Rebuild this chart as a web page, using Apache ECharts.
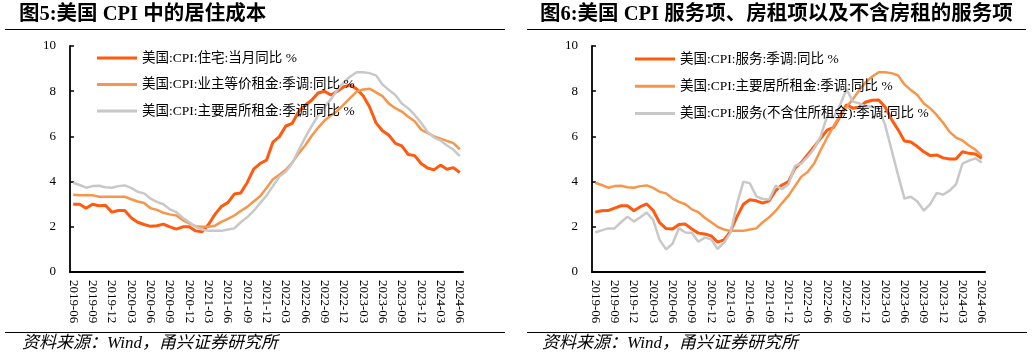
<!DOCTYPE html>
<html>
<head>
<meta charset="utf-8">
<script src="https://cdn.jsdelivr.net/npm/echarts@6/dist/echarts.min.js"></script>
<style>
html,body{margin:0;padding:0;background:#fff;}
#c{width:1032px;height:360px;}
</style>
</head>
<body>
<div id="c"></div>
<script>
const categories = [
'2019-06','2019-07','2019-08','2019-09','2019-10','2019-11','2019-12',
'2020-01','2020-02','2020-03','2020-04','2020-05','2020-06','2020-07','2020-08','2020-09','2020-10','2020-11','2020-12',
'2021-01','2021-02','2021-03','2021-04','2021-05','2021-06','2021-07','2021-08','2021-09','2021-10','2021-11','2021-12',
'2022-01','2022-02','2022-03','2022-04','2022-05','2022-06','2022-07','2022-08','2022-09','2022-10','2022-11','2022-12',
'2023-01','2023-02','2023-03','2023-04','2023-05','2023-06','2023-07','2023-08','2023-09','2023-10','2023-11','2023-12',
'2024-01','2024-02','2024-03','2024-04','2024-05','2024-06'];

// 图5
const housingYoY = [3.0,3.0,2.82,3.0,2.93,2.95,2.65,2.72,2.72,2.4,2.2,2.1,2.02,2.05,2.12,2.0,1.9,2.0,2.0,1.82,1.78,2.1,2.55,2.9,3.07,3.45,3.5,3.95,4.55,4.8,4.95,5.75,5.99,6.46,6.58,7.1,7.38,7.6,7.92,8.0,7.83,8.0,8.2,8.27,8.1,7.8,7.3,6.6,6.25,6.05,5.69,5.58,5.2,5.15,4.8,4.6,4.52,4.73,4.55,4.62,4.4];
const oerYoY = [3.42,3.4,3.4,3.4,3.33,3.33,3.33,3.33,3.33,3.22,3.12,3.05,2.82,2.75,2.62,2.55,2.5,2.3,2.15,2.03,2.0,2.0,2.05,2.22,2.35,2.5,2.7,2.88,3.12,3.35,3.72,4.1,4.3,4.52,4.84,5.25,5.6,6.02,6.38,6.7,6.92,7.13,7.42,7.7,7.98,8.08,8.11,7.95,7.78,7.45,7.25,7.1,6.87,6.67,6.3,6.15,6.0,5.9,5.8,5.7,5.43];
const rentYoY = [3.95,3.85,3.73,3.8,3.82,3.75,3.73,3.8,3.83,3.72,3.55,3.48,3.25,3.1,3.0,2.77,2.65,2.4,2.2,2.0,1.88,1.82,1.82,1.82,1.88,1.93,2.2,2.42,2.7,3.05,3.38,3.8,4.22,4.44,4.81,5.4,5.95,6.45,6.92,7.3,7.65,8.05,8.4,8.65,8.84,8.84,8.8,8.7,8.3,8.05,7.83,7.46,7.24,6.95,6.6,6.2,5.95,5.82,5.6,5.42,5.13];
// 图6
const servicesYoY = [2.65,2.71,2.72,2.83,2.93,2.93,2.71,2.89,3.01,2.72,2.18,1.92,1.9,2.1,2.12,1.9,1.72,1.68,1.6,1.32,1.42,1.8,2.45,3.0,3.2,3.15,3.05,3.15,3.6,3.85,4.0,4.6,4.85,5.2,5.55,5.92,6.28,6.4,6.88,7.4,7.25,7.3,7.52,7.6,7.61,7.3,6.75,6.3,5.8,5.75,5.55,5.32,5.15,5.18,5.05,5.0,5.0,5.32,5.25,5.22,5.03];
const servicesExRentYoY = [1.75,1.84,1.93,1.93,2.2,2.45,2.23,2.42,2.63,2.3,1.42,1.0,1.25,1.93,1.75,1.74,1.34,1.52,1.45,1.02,1.3,1.74,3.0,4.0,3.92,3.35,3.23,3.21,3.82,3.66,3.88,4.69,4.81,5.1,5.47,6.0,6.9,6.84,7.39,8.09,7.54,7.46,7.32,7.32,7.24,6.5,5.4,4.3,3.25,3.33,3.12,2.72,3.0,3.5,3.42,3.6,3.88,4.8,4.93,5.03,4.84];

const yTicks = {min: 0, max: 10, interval: 2};

const legendText = {
  h: '美国:CPI:住宅:当月同比 %',
  oer: '美国:CPI:业主等价租金:季调:同比 %',
  rentL: '美国:CPI:主要居所租金:季调:同比 %',
  svc: '美国:CPI:服务:季调:同比 %',
  rentR: '美国:CPI:主要居所租金:季调:同比 %',
  svcx: '美国:CPI:服务(不含住所租金):季调:同比 %'
};

const titles = ['图5:美国 CPI 中的居住成本', '图6:美国 CPI 服务项、房租项以及不含房租的服务项'];
const sourceText = '资料来源：Wind，甬兴证券研究所';

const RED = '#FF5A0F', ORANGE = '#F7954A', GRAY = '#C8C8C8';
const FONT = '"Liberation Serif","Times New Roman","Noto Sans CJK SC",serif';

function xAxis(i) {
  return {
    type: 'category', gridIndex: i, data: categories, boundaryGap: true,
    axisLine: {lineStyle: {color: '#000', width: 2}},
    axisTick: {inside: true, length: 4, interval: 2, lineStyle: {color: '#000', width: 1.5}},
    axisLabel: {interval: 2, rotate: -90, margin: 8, color: '#000', fontSize: 13, fontFamily: FONT},
    splitLine: {show: false}
  };
}
function yAxis(i) {
  return {
    type: 'value', gridIndex: i, min: yTicks.min, max: yTicks.max, interval: yTicks.interval,
    axisLine: {show: true, lineStyle: {color: '#000', width: 1.8}},
    axisTick: {show: true, inside: true, length: 4, lineStyle: {color: '#000', width: 1.5}},
    axisLabel: {color: '#000', fontSize: 13, fontFamily: FONT, margin: 14},
    splitLine: {show: false}
  };
}
function line(name, data, color, width, idx) {
  return {
    name: name, type: 'line', data: data, xAxisIndex: idx, yAxisIndex: idx,
    symbol: 'none', showSymbol: false, smooth: false,
    lineStyle: {color: color, width: width}, itemStyle: {color: color},
    emphasis: {disabled: true}
  };
}
function legend(names, left, top, gap) {
  return {
    data: names, left: left, top: top, orient: 'vertical', icon: 'rect',
    itemWidth: 40, itemHeight: 3, itemGap: gap, selectedMode: false,
    formatter: n => legendText[n],
    textStyle: {color: '#000', fontSize: 13.5, fontFamily: FONT, lineHeight: 14}
  };
}
function txt(t, x, y, font) {
  return {type: 'text', x: x, y: y, silent: true,
    style: {text: t, font: font, fill: '#000', verticalAlign: 'middle', align: 'left'}};
}
function hline(x1, x2, y) {
  return {type: 'line', silent: true, shape: {x1: x1, y1: y, x2: x2, y2: y},
    style: {stroke: '#000', lineWidth: 1}};
}

const chart = echarts.init(document.getElementById('c'), null, {renderer: 'canvas'});
chart.setOption({
  animation: false,
  backgroundColor: '#fff',
  grid: [
    {left: 70, right: 569, top: 46, bottom: 88, containLabel: false},
    {left: 592, right: 47, top: 46, bottom: 88, containLabel: false}
  ],
  xAxis: [xAxis(0), xAxis(1)],
  yAxis: [yAxis(0), yAxis(1)],
  legend: [
    legend(['h', 'oer', 'rentL'], 92, 46, 12.5),
    legend(['svc', 'rentR', 'svcx'], 630, 47, 13.2)
  ],
  series: [
    line('h', housingYoY, RED, 3, 0),
    line('oer', oerYoY, ORANGE, 2.5, 0),
    line('rentL', rentYoY, GRAY, 2.5, 0),
    line('svc', servicesYoY, RED, 3, 1),
    line('rentR', rentYoY, ORANGE, 2.5, 1),
    line('svcx', servicesExRentYoY, GRAY, 2.5, 1)
  ],
  graphic: [
    txt(titles[0], 19, 15, 'bold 20.5px ' + FONT),
    txt(titles[1], 540, 15, 'bold 20.5px ' + FONT),
    hline(5, 505, 29.5),
    hline(527, 1026, 29.5),
    hline(5, 505, 332.5),
    hline(527, 1027, 332.5),
    txt(sourceText, 22, 344, 'italic 17px ' + FONT),
    txt(sourceText, 542, 344, 'italic 17px ' + FONT)
  ]
});
</script>
</body>
</html>
